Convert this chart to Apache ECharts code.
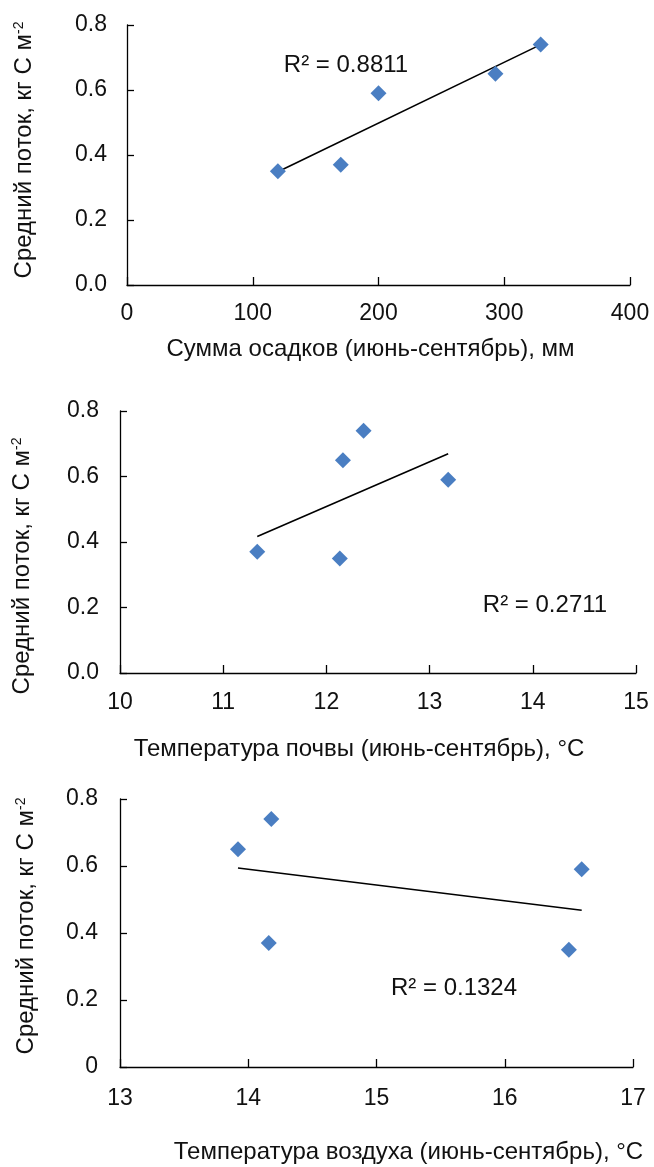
<!DOCTYPE html>
<html>
<head>
<meta charset="utf-8">
<script src="https://cdn.jsdelivr.net/npm/echarts@6/dist/echarts.min.js"></script>
<style>
  html, body { margin: 0; padding: 0; background: #fff; }
  #chart { width: 654px; height: 1167px; }
</style>
</head>
<body>
<div id="chart"></div>
<script>
// Mean CO2 flux per site, kg C m^-2
const flux = [0.35, 0.37, 0.59, 0.65, 0.74];
// Drivers for the same sites (June–September)
const precipitation = [120, 170, 200, 293, 329];             // mm
const soilTemperature = [12.13, 11.33, 13.18, 12.16, 12.36]; // °C
const airTemperature = [16.50, 14.16, 16.60, 13.92, 14.18];  // °C

const xAxisTitles = [
  'Сумма осадков (июнь-сентябрь), мм',
  'Температура почвы (июнь-сентябрь), °C',
  'Температура воздуха (июнь-сентябрь), °C'
];
const yAxisTitle = 'Средний поток, кг С м';
const r2Labels = ['R² = 0.8811', 'R² = 0.2711', 'R² = 0.1324'];

const xRanges = [[0, 400, 100], [10, 15, 1], [13, 17, 1]];
const yTickLabels = [
  ['0.0', '0.2', '0.4', '0.6', '0.8'],
  ['0.0', '0.2', '0.4', '0.6', '0.8'],
  ['0', '0.2', '0.4', '0.6', '0.8']
];

const FONT = "'Liberation Sans', Arial, sans-serif";
const FS_TICK = 23;
const FS_TITLE = 24;
const TXT = '#111';
const BLUE = '#4A7EC2';

// least-squares line over the x-range of the data
function trend(xs, ys) {
  const n = xs.length;
  const mx = xs.reduce((a, b) => a + b, 0) / n;
  const my = ys.reduce((a, b) => a + b, 0) / n;
  let sxy = 0, sxx = 0;
  for (let i = 0; i < n; i++) { sxy += (xs[i] - mx) * (ys[i] - my); sxx += (xs[i] - mx) ** 2; }
  const k = sxy / sxx, b = my - k * mx;
  const x0 = Math.min(...xs), x1 = Math.max(...xs);
  return [[x0, k * x0 + b], [x1, k * x1 + b]];
}

const drivers = [precipitation, soilTemperature, airTemperature];

const grids = [
  { left: 127, top: 25, width: 503, height: 260 },
  { left: 120, top: 411, width: 516, height: 262 },
  { left: 120, top: 799, width: 513, height: 268 }
];
const xLabelMargin = [17, 18, 20];
const yLabelMargin = [20, 21, 22];
const xNameGap = [52, 64, 73];
const xNamePad = [[0, 16, 0, 0], [0, 38, 0, 0], [0, 0, 0, 64]];
const yNameGap = [91, 86, 82];
const yNamePad = [[0, 0, 0, 10], [0, 48, 0, 0], [0, 0, 0, 14]];
const r2Pos = [[346, 65], [545, 605], [454, 988]];

const axisLine = { show: true, lineStyle: { color: '#000', width: 1.3 } };

const option = {
  backgroundColor: '#fff',
  animation: false,
  grid: grids,
  xAxis: xRanges.map((r, i) => ({
    type: 'value', gridIndex: i, min: r[0], max: r[1], interval: r[2],
    axisLine,
    axisTick: { show: true, inside: true, length: 8, lineStyle: { color: '#000', width: 1.3 } },
    splitLine: { show: false },
    axisLabel: { margin: xLabelMargin[i], color: TXT, fontFamily: FONT, fontSize: FS_TICK },
    name: xAxisTitles[i], nameLocation: 'middle', nameGap: xNameGap[i],
    nameTextStyle: { color: TXT, fontFamily: FONT, fontSize: FS_TITLE, padding: xNamePad[i] }
  })),
  yAxis: yTickLabels.map((labels, i) => ({
    type: 'value', gridIndex: i, min: 0, max: 0.8, interval: 0.2,
    axisLine,
    axisTick: { show: true, inside: true, length: 7, lineStyle: { color: '#000', width: 1.3 } },
    splitLine: { show: false },
    axisLabel: {
      margin: yLabelMargin[i], color: TXT, fontFamily: FONT, fontSize: FS_TICK,
      formatter: v => labels[Math.round(v / 0.2)]
    },
    name: '{t|' + yAxisTitle + '}{s|-2}', nameLocation: 'middle', nameGap: yNameGap[i],
    nameTextStyle: {
      padding: yNamePad[i],
      rich: {
        t: { color: TXT, fontFamily: FONT, fontSize: FS_TITLE },
        s: { color: TXT, fontFamily: FONT, fontSize: 14, verticalAlign: 'top' }
      }
    }
  })),
  series: [],
  graphic: r2Labels.map((t, i) => ({
    type: 'text', x: r2Pos[i][0], y: r2Pos[i][1],
    style: { text: t, fill: TXT, font: FS_TITLE + 'px ' + FONT, align: 'center', verticalAlign: 'middle' }
  }))
};

drivers.forEach((xs, i) => {
  option.series.push({
    type: 'line', xAxisIndex: i, yAxisIndex: i,
    data: trend(xs, flux), showSymbol: false, symbol: 'none',
    lineStyle: { color: '#000', width: 1.6 }, z: 2
  });
  option.series.push({
    type: 'scatter', xAxisIndex: i, yAxisIndex: i,
    data: xs.map((x, j) => [x, flux[j]]),
    symbol: 'diamond', symbolSize: [16, 16],
    itemStyle: { color: BLUE, opacity: 1 }, z: 3
  });
});

const chart = echarts.init(document.getElementById('chart'), null, { renderer: 'canvas' });
chart.setOption(option);
</script>
</body>
</html>
